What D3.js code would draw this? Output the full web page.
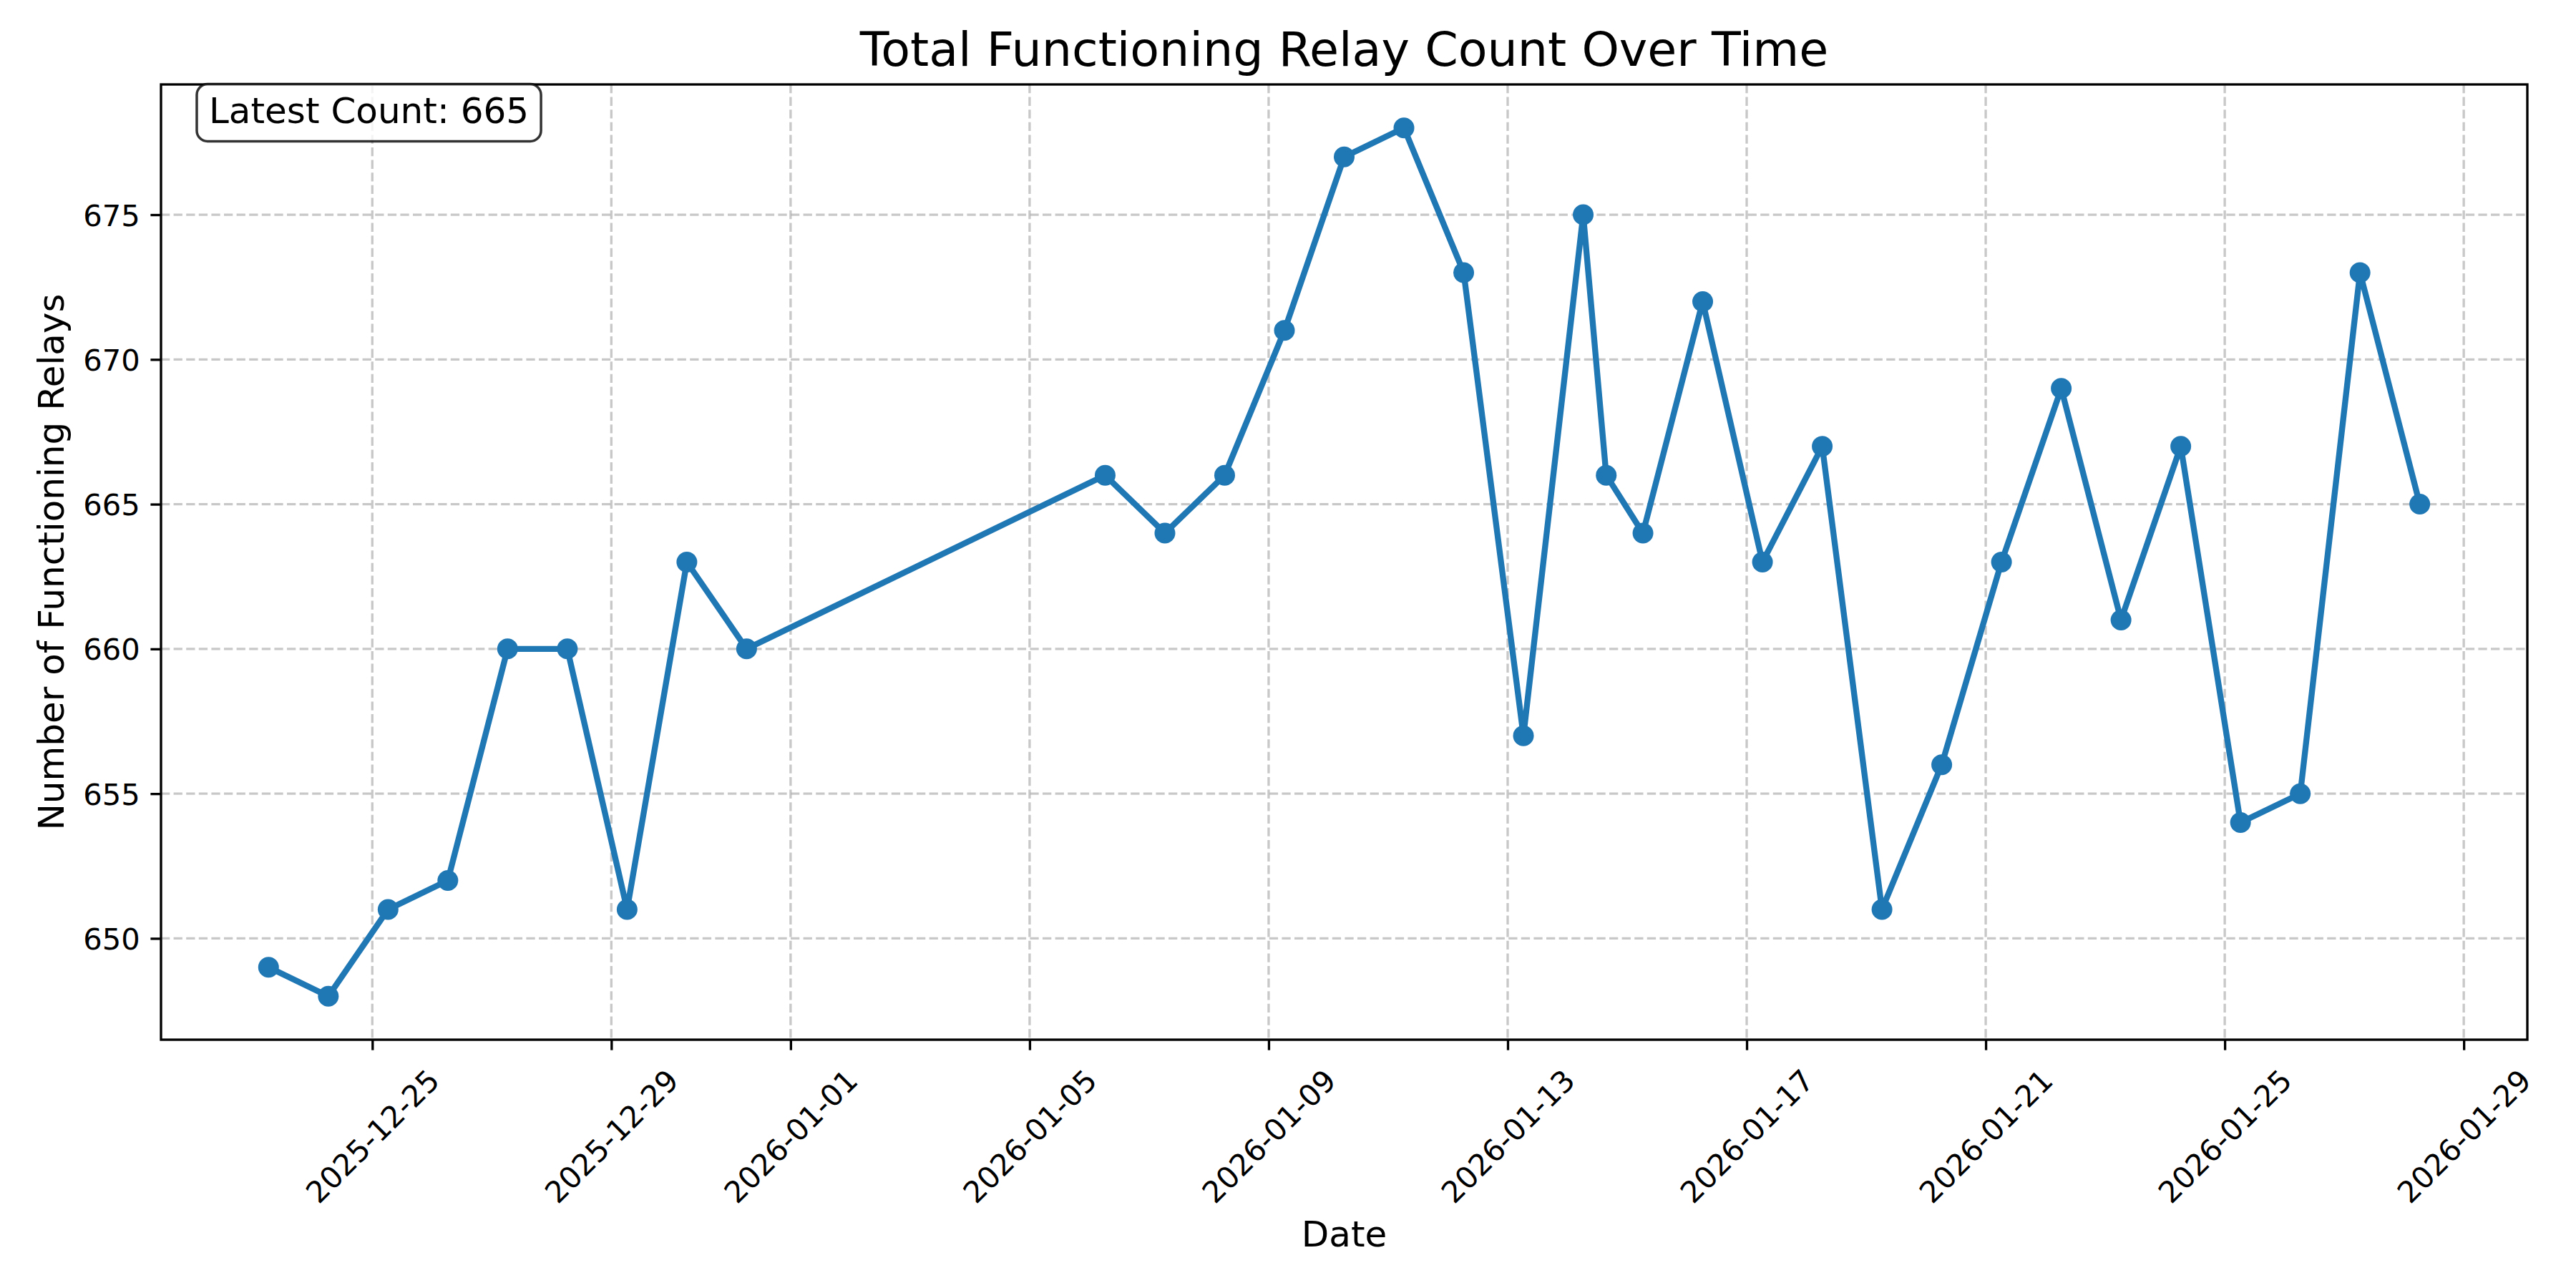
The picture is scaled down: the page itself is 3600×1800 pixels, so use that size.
<!DOCTYPE html>
<html lang="en">
<head>
	<meta charset="UTF-8">
	<title>Total Functioning Relay Count Over Time</title>
	<script src="https://d3js.org/d3.v7.min.js"></script>
	<style>
		body {
			margin: 0;
			background: white;
			font-family: "DejaVu Sans", sans-serif;
		}
		.grid line {
			stroke: #b0b0b0;
			stroke-opacity: 0.7;
			stroke-width: 3.33;
			stroke-dasharray: 12.3 5.3;
		}
	</style>
</head>
<body>

<div id="chart"></div>

<script>

// Data
const dates = [
	"2025-12-23 06:20", "2025-12-24 06:20", "2025-12-25 06:20", "2025-12-26 06:20",
	"2025-12-27 06:20", "2025-12-28 06:20", "2025-12-29 06:20", "2025-12-30 06:20",
	"2025-12-31 06:20",
	"2026-01-06 06:20", "2026-01-07 06:20", "2026-01-08 06:20", "2026-01-09 06:20",
	"2026-01-10 06:20", "2026-01-11 06:20", "2026-01-12 06:20", "2026-01-13 06:20",
	"2026-01-14 06:20", "2026-01-14 15:35",
	"2026-01-15 06:20", "2026-01-16 06:20", "2026-01-17 06:20", "2026-01-18 06:20",
	"2026-01-19 06:20", "2026-01-20 06:20", "2026-01-21 06:20", "2026-01-22 06:20",
	"2026-01-23 06:20", "2026-01-24 06:20", "2026-01-25 06:20", "2026-01-26 06:20",
	"2026-01-27 06:20", "2026-01-28 06:20"
];

const counts = [
	649, 648, 651, 652, 660, 660, 651, 663, 660,
	666, 664, 666, 671, 677, 678, 673, 657, 675, 666,
	664, 672, 663, 667, 651, 656, 663, 669, 661, 667, 654, 655, 673, 665
];

const xTickLabels = [
	"2025-12-25", "2025-12-29", "2026-01-01", "2026-01-05", "2026-01-09",
	"2026-01-13", "2026-01-17", "2026-01-21", "2026-01-25", "2026-01-29"
];

const yTickValues = [650, 655, 660, 665, 670, 675];

// Layout (pixels, 3600x1800 figure)
const W = 3600, H = 1800;
const plot = {left: 225, right: 3532, top: 118, bottom: 1453};
const tickLen = 14.6;
const blue = "#1f77b4";

const parseTime = d3.timeParse("%Y-%m-%d %H:%M");
const parseDay = d3.timeParse("%Y-%m-%d");

const data = dates.map((d, i) => ({date: parseTime(d), count: counts[i]}));
const xTicks = xTickLabels.map(parseDay);

const svg = d3.select("#chart")
	.append("svg")
	.attr("width", W)
	.attr("height", H)
	.style("display", "block");

// Scales with a 5% margin like matplotlib
const xExt = d3.extent(data, d => d.date);
const xPad = (xExt[1] - xExt[0]) * 0.05;
const x = d3.scaleTime()
	.domain([new Date(+xExt[0] - xPad), new Date(+xExt[1] + xPad)])
	.range([plot.left, plot.right]);

const yExt = d3.extent(data, d => d.count);
const yPad = (yExt[1] - yExt[0]) * 0.05;
const y = d3.scaleLinear()
	.domain([yExt[0] - yPad, yExt[1] + yPad])
	.range([plot.bottom, plot.top]);

// Grid lines
const grid = svg.append("g").attr("class", "grid");

grid.selectAll(".vgrid")
	.data(xTicks)
	.join("line")
	.attr("class", "vgrid")
	.attr("x1", d => x(d)).attr("x2", d => x(d))
	.attr("y1", plot.top).attr("y2", plot.bottom);

grid.selectAll(".hgrid")
	.data(yTickValues)
	.join("line")
	.attr("class", "hgrid")
	.attr("x1", plot.left).attr("x2", plot.right)
	.attr("y1", d => y(d)).attr("y2", d => y(d));

// X axis
const xAxis = svg.append("g")
	.attr("transform", `translate(0, ${plot.bottom})`)
	.call(d3.axisBottom(x)
		.tickValues(xTicks)
		.tickFormat(d3.timeFormat("%Y-%m-%d"))
		.tickSize(tickLen)
		.tickSizeOuter(0));

xAxis.select(".domain").remove();
xAxis.selectAll(".tick line").attr("stroke", "black").attr("stroke-width", 3.33);
xAxis.selectAll(".tick text")
	.attr("y", 0)
	.attr("dy", "0.35em")
	.attr("text-anchor", "middle")
	.attr("transform", "translate(0, 135) rotate(-45)")
	.style("font-family", "DejaVu Sans")
	.style("font-size", "41.7px")
	.attr("fill", "black");

// Y axis
const yAxis = svg.append("g")
	.attr("transform", `translate(${plot.left}, 0)`)
	.call(d3.axisLeft(y)
		.tickValues(yTickValues)
		.tickSize(tickLen)
		.tickPadding(14.6)
		.tickSizeOuter(0));

yAxis.select(".domain").remove();
yAxis.selectAll(".tick line").attr("stroke", "black").attr("stroke-width", 3.33);
yAxis.selectAll(".tick text")
	.attr("dy", "0.36em")
	.style("font-family", "DejaVu Sans")
	.style("font-size", "41.7px")
	.attr("fill", "black");

// Line and markers
const line = d3.line()
	.x(d => x(d.date))
	.y(d => y(d.count));

svg.append("path")
	.datum(data)
	.attr("d", line)
	.attr("fill", "none")
	.attr("stroke", blue)
	.attr("stroke-width", 8.33)
	.attr("stroke-linejoin", "round")
	.attr("stroke-linecap", "square");

svg.selectAll(".dot")
	.data(data)
	.join("circle")
	.attr("class", "dot")
	.attr("cx", d => x(d.date))
	.attr("cy", d => y(d.count))
	.attr("r", 14.5)
	.attr("fill", blue);

// Spines
svg.append("rect")
	.attr("x", plot.left)
	.attr("y", plot.top)
	.attr("width", plot.right - plot.left)
	.attr("height", plot.bottom - plot.top)
	.attr("fill", "none")
	.attr("stroke", "black")
	.attr("stroke-width", 3.33);

// Latest count box
const boxG = svg.append("g");
const boxRect = boxG.append("rect");
const boxText = boxG.append("text")
	.attr("x", 292)
	.attr("y", 172)
	.style("font-family", "DejaVu Sans")
	.style("font-size", "50px")
	.attr("fill", "black")
	.text(`Latest Count: ${counts[counts.length - 1]}`);

const bb = boxText.node().getBBox();
boxRect
	.attr("x", bb.x - 17)
	.attr("y", 117.5)
	.attr("width", bb.width + 34)
	.attr("height", 80)
	.attr("rx", 15)
	.attr("ry", 15)
	.attr("fill", "white")
	.attr("fill-opacity", 0.8)
	.attr("stroke", "black")
	.attr("stroke-opacity", 0.8)
	.attr("stroke-width", 3.5);

// Title and axis labels
svg.append("text")
	.attr("x", (plot.left + plot.right) / 2)
	.attr("y", 92)
	.attr("text-anchor", "middle")
	.style("font-family", "DejaVu Sans")
	.style("font-size", "66.7px")
	.text("Total Functioning Relay Count Over Time");

svg.append("text")
	.attr("x", (plot.left + plot.right) / 2)
	.attr("y", 1742)
	.attr("text-anchor", "middle")
	.style("font-family", "DejaVu Sans")
	.style("font-size", "50px")
	.text("Date");

svg.append("text")
	.attr("transform", `translate(89, ${(plot.top + plot.bottom) / 2}) rotate(-90)`)
	.attr("text-anchor", "middle")
	.style("font-family", "DejaVu Sans")
	.style("font-size", "50px")
	.text("Number of Functioning Relays");

</script>
</body>
</html>
